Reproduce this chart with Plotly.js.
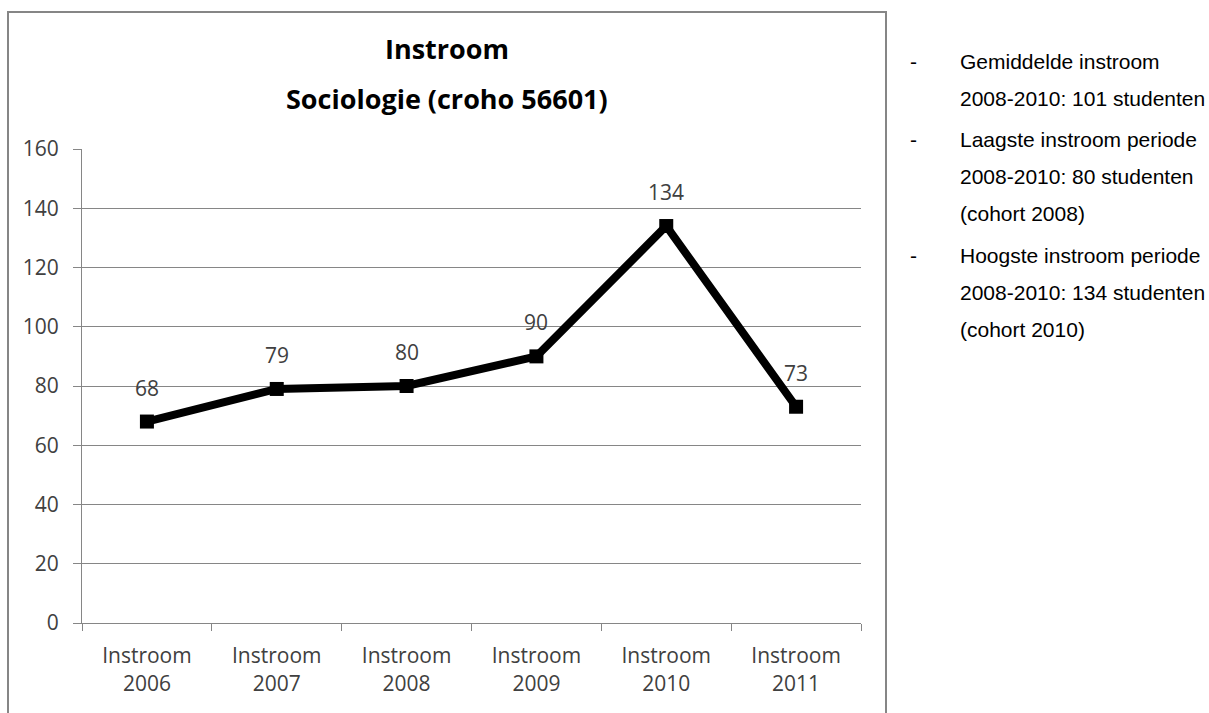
<!DOCTYPE html>
<html>
<head>
<meta charset="utf-8">
<script src="https://cdn.plot.ly/plotly-3.0.1.min.js"></script>
<style>html,body{margin:0;padding:0;background:#fff;}#chart{width:1209px;height:713px;}</style>
</head>
<body>
<div id="chart"></div>
<script>
// ---- data ----
var categories = ["Instroom<br>2006", "Instroom<br>2007", "Instroom<br>2008", "Instroom<br>2009", "Instroom<br>2010", "Instroom<br>2011"];
var values = [68, 79, 80, 90, 134, 73];
var yTicks = [0, 20, 40, 60, 80, 100, 120, 140, 160];
var titleLine1 = "Instroom";
var titleLine2 = "Sociologie (croho 56601)";
var noteLines = [
  "Gemiddelde instroom",
  "2008-2010: 101 studenten",
  "Laagste instroom periode",
  "2008-2010: 80 studenten",
  "(cohort 2008)",
  "Hoogste instroom periode",
  "2008-2010: 134 studenten",
  "(cohort 2010)"
];
var noteBullet = [true, false, true, false, false, true, false, false];

// ---- layout helpers (pixel -> paper) ----
var W = 1209, H = 713;
var mL = 82, mR = 348, mT = 149, mB = 90;
var pw = W - mL - mR, ph = H - mT - mB;
function px(x) { return (x - mL) / pw; }
function py(y) { return (H - mB - y) / ph; }

var chartFont = "'Open Sans', sans-serif";
var textGrey = "#404040";
var axisGrey = "#868686";

var annotations = [];
// data labels
for (var i = 0; i < categories.length; i++) {
  annotations.push({
    x: categories[i], y: values[i], xref: "x", yref: "y",
    text: String(values[i]), showarrow: false, yshift: 34,
    font: {family: chartFont, size: 21, color: textGrey}
  });
}
// second title line
annotations.push({
  x: px(447), y: py(98), xref: "paper", yref: "paper",
  text: "<b>" + titleLine2 + "</b>", showarrow: false,
  xanchor: "center", yanchor: "middle",
  font: {family: chartFont, size: 27, color: "#000"}
});
// side notes
var noteY = [62, 98, 140, 177, 213, 255, 292, 329];
for (var j = 0; j < noteLines.length; j++) {
  annotations.push({
    x: px(958), y: py(noteY[j]), xref: "paper", yref: "paper",
    text: noteLines[j], showarrow: false, xanchor: "left", yanchor: "middle",
    font: {family: "'Liberation Sans', Arial, sans-serif", size: 21, color: "#000"}
  });
  if (noteBullet[j]) {
    annotations.push({
      x: px(913), y: py(noteY[j]), xref: "paper", yref: "paper",
      text: "-", showarrow: false, xanchor: "center", yanchor: "middle",
      font: {family: "'Liberation Sans', Arial, sans-serif", size: 21, color: "#000"}
    });
  }
}

var trace = {
  type: "scatter",
  mode: "lines+markers",
  x: categories,
  y: values,
  line: {color: "#000", width: 8},
  marker: {symbol: "square", size: 14, color: "#000"},
  hoverinfo: "x+y",
  showlegend: false,
  cliponaxis: false
};

var layout = {
  width: W, height: H,
  margin: {l: mL, r: mR, t: mT, b: mB, pad: 0},
  paper_bgcolor: "#fff",
  plot_bgcolor: "#fff",
  showlegend: false,
  title: {
    text: "<b>" + titleLine1 + "</b>",
    x: px(447), xref: "paper", xanchor: "center",
    y: 1 - 50 / H, yref: "container", yanchor: "middle",
    font: {family: chartFont, size: 27, color: "#000"}
  },
  xaxis: {
    type: "category",
    range: [-0.5, categories.length - 0.5],
    tickson: "boundaries",
    ticks: "outside", ticklen: 7, tickcolor: axisGrey, tickwidth: 1,
    ticklabelstandoff: 14,
    showgrid: false,
    showline: true, linecolor: axisGrey, linewidth: 1,
    tickfont: {family: chartFont, size: 21, color: textGrey},
    fixedrange: true
  },
  yaxis: {
    range: [0, 160],
    tickmode: "array", tickvals: yTicks, ticktext: yTicks.map(String),
    ticks: "outside", ticklen: 8, tickcolor: axisGrey, tickwidth: 1,
    ticklabelstandoff: 10,
    showgrid: true, gridcolor: axisGrey, gridwidth: 1,
    showline: true, linecolor: axisGrey, linewidth: 1,
    zeroline: false,
    tickfont: {family: chartFont, size: 21, color: textGrey},
    fixedrange: true
  },
  shapes: [{
    type: "rect", xref: "paper", yref: "paper",
    x0: px(8), x1: px(886), y0: py(740), y1: py(12),
    line: {color: axisGrey, width: 2}, fillcolor: "rgba(0,0,0,0)", layer: "below"
  }],
  annotations: annotations
};

Plotly.newPlot("chart", [trace], layout, {displayModeBar: false, staticPlot: true});
</script>
</body>
</html>
